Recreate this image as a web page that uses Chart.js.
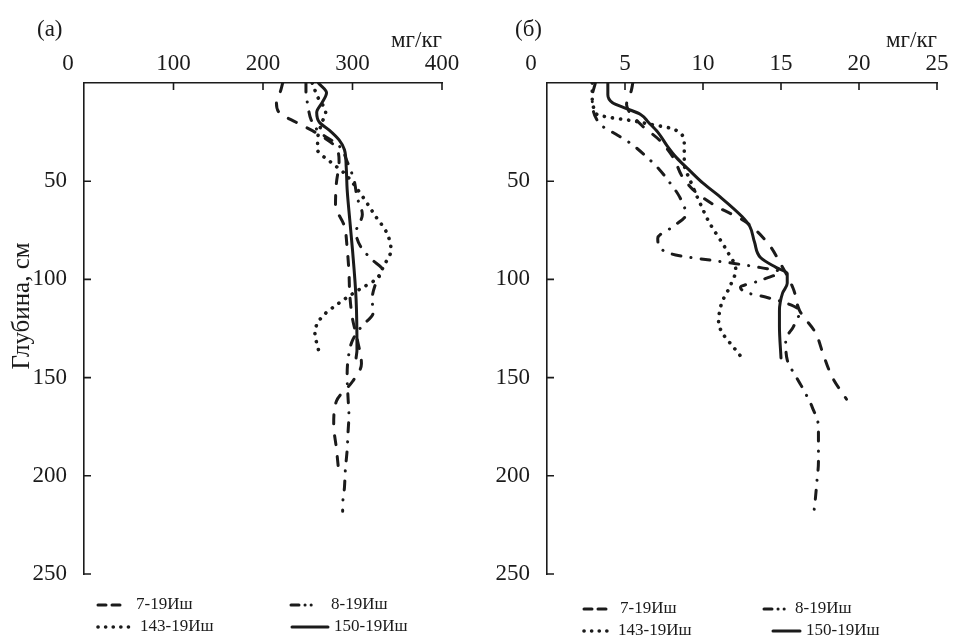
<!DOCTYPE html>
<html>
<head>
<meta charset="utf-8">
<script src="https://cdn.jsdelivr.net/npm/chart.js@4.4.1/dist/chart.umd.min.js"></script>
<style>
  html, body { margin: 0; padding: 0; background: #fff; }
  #wrap { position: relative; width: 954px; height: 641px; }
  #wrap canvas { position: absolute; left: 0; top: 0; }
</style>
</head>
<body>
<div id="wrap">
  <canvas id="chartA" width="954" height="641"></canvas>
  <canvas id="chartB" width="954" height="641"></canvas>
</div>
<script>
// Names, ticks
// ----------------------------------------------
const seriesNames = ['7-19Иш', '8-19Иш', '143-19Иш', '150-19Иш'];
const depthTicks  = [0, 50, 100, 150, 200, 250];
const ticksA      = [0, 100, 200, 300, 400];
const ticksB      = [0, 5, 10, 15, 20, 25];
const unitLabel   = 'мг/кг';
const depthLabel  = 'Глубина, см';

// Panel (а), mg/kg vs depth, cm
// ----------------------------------------------
const a7depth   = [0, 5, 10, 15, 20, 25, 32, 40, 51, 62, 73, 84, 96, 108, 120, 130, 143, 152, 162, 174, 186, 195];
const a7value   = [222, 219, 215, 218, 237, 258, 280, 285, 282, 281, 291, 294, 296, 297, 300, 305, 310, 300, 282, 279, 282, 284];
const a8depth   = [0, 5, 11, 19, 25, 32, 40, 50, 58, 67, 76, 84, 90, 95, 102, 110, 117, 124, 131, 141, 150, 160, 169, 178, 187, 197, 206, 215, 218];
const a8value   = [248, 248, 250, 254, 263, 285, 294, 302, 305, 311, 304, 310, 322, 333, 326, 322, 323, 310, 300, 295, 294, 295, 296, 295, 294, 292, 291, 289, 289];
const a143depth = [0, 7, 15, 20, 29, 34, 40, 46, 57, 68, 76, 85, 93, 100, 105, 113, 119, 127, 136];
const a143value = [255, 261, 270, 266, 261, 261, 275, 291, 310, 326, 338, 343, 335, 326, 308, 282, 266, 258, 262];
const a150depth = [0, 5, 10, 15, 20, 24, 29, 34, 43, 54, 65, 85, 110, 136, 140];
const a150value = [262, 271, 266, 260, 263, 274, 285, 291, 293, 294, 296, 300, 304, 305, 304];

// Panel (б)
// ----------------------------------------------
const b7depth   = [0, 4, 11, 21, 29, 38, 48, 56, 63, 70, 81, 91, 105, 116, 127, 138, 150, 161];
const b7value   = [5.5, 5.4, 5.1, 6.0, 7.2, 8.1, 8.7, 9.6, 10.9, 12.6, 14.1, 14.9, 15.8, 16.2, 17.2, 17.7, 18.3, 19.2];
const b8depth   = [0, 7, 21, 26, 31, 37, 44, 50, 58, 67, 73, 79, 85, 88, 90, 92, 94, 96, 101, 104, 107, 109, 112, 116, 124, 131, 141, 150, 157, 165, 175, 184, 193, 203, 212, 219];
const b8value   = [3.1, 2.9, 3.4, 4.4, 5.4, 6.3, 7.2, 7.8, 8.5, 8.9, 8.1, 7.1, 7.4, 8.5, 10.3, 12.1, 13.7, 14.9, 13.5, 12.4, 12.9, 14.0, 15.3, 16.2, 15.8, 15.3, 15.4, 16.0, 16.5, 17.0, 17.4, 17.4, 17.4, 17.3, 17.2, 17.1];
const b143depth = [0, 9, 13, 16, 17.5, 19, 21, 23, 27, 32, 41, 50, 61, 71, 85, 95, 104, 112, 122, 128, 134, 139];
const b143value = [2.9, 2.9, 3.0, 3.2, 4.0, 5.3, 6.6, 7.9, 8.7, 8.8, 8.8, 9.2, 9.8, 10.4, 11.5, 12.1, 11.7, 11.2, 11.0, 11.3, 11.9, 12.4];
const b150depth = [0, 6, 10, 13, 16, 20, 25, 32, 38, 45, 51, 58, 68, 73, 81, 89, 94, 97, 102, 107, 116, 124, 140];
const b150value = [3.9, 3.9, 4.2, 5.1, 6.0, 6.5, 7.1, 7.7, 8.3, 9.2, 10.0, 11.1, 12.5, 13.0, 13.3, 13.7, 14.7, 15.4, 15.4, 15.1, 14.9, 14.9, 15.0];

// Styles
// ----------------------------------------------
const ink   = '#1b1b1b';
const serif = '"Liberation Serif", "Times New Roman", serif';
const lineStyles = [
   { width: 3,   dash: [9, 12],           key: [8, 6] },             // dashed
   { width: 3,   dash: [9, 10, 0.1, 10],  key: [8, 6, 0.1, 6, 0.1, 20] }, // dash-dot
   { width: 3.6, dash: [0.1, 8],          key: [0.1, 7.5] },         // dotted
   { width: 3,   dash: [],                key: [] }                  // solid
];

// Ticks, labels, legend drawn on top of each panel
// ----------------------------------------------
const decor = {
   id: 'decor',
   afterDraw( chart, args, o ) {
      const { ctx, scales: { x, y } } = chart;
      ctx.save();
      ctx.strokeStyle = ink;
      ctx.fillStyle = ink;
      ctx.lineWidth = 1.6;
      ctx.setLineDash([]);

      // inward tick marks
      ctx.beginPath();
      x.ticks.forEach( t => {
         if ( t.value === 0 ) return;
         const px = x.getPixelForValue( t.value );
         ctx.moveTo( px, y.top ); ctx.lineTo( px, y.top + 7 );
      });
      y.ticks.forEach( t => {
         if ( t.value === 0 ) return;
         const py = y.getPixelForValue( t.value );
         ctx.moveTo( x.left, py ); ctx.lineTo( x.left + 7, py );
      });
      ctx.stroke();

      // top tick labels
      ctx.font = '23px ' + serif;
      ctx.textAlign = 'center';
      ctx.textBaseline = 'middle';
      x.ticks.forEach( t => {
         const px = x.getPixelForValue( t.value ) + ( t.value === 0 ? -16 : 0 );
         ctx.fillText( String( t.value ), px, 64 );
      });

      // unit and panel letter
      ctx.textAlign = 'right';
      ctx.textBaseline = 'alphabetic';
      ctx.fillText( unitLabel, x.right, 47 );
      ctx.textAlign = 'left';
      ctx.textBaseline = 'middle';
      ctx.fillText( o.letter, o.letterX, 30 );

      // depth title
      if ( o.depthTitle ) {
         ctx.save();
         ctx.font = '25px ' + serif;
         ctx.translate( 22, 306 );
         ctx.rotate( -Math.PI / 2 );
         ctx.textAlign = 'center';
         ctx.fillText( depthLabel, 0, 0 );
         ctx.restore();
      }

      // legend
      ctx.font = '17px ' + serif;
      ctx.textAlign = 'left';
      chart.data.datasets.forEach( ( ds, i ) => {
         const [x0, x1, tx, ty] = o.legend[i];
         ctx.save();
         ctx.lineWidth = ds.borderWidth;
         ctx.lineCap = 'round';
         ctx.setLineDash( lineStyles[i].key );
         ctx.beginPath();
         ctx.moveTo( x0, ty ); ctx.lineTo( x1, ty );
         ctx.stroke();
         ctx.restore();
         ctx.fillText( ds.label, tx, ty );
      });
      ctx.restore();
   }
};

function buildSets( series ) {
   return series.map( ( s, i ) => ({
      label: seriesNames[i],
      data: s[0].map( ( d, k ) => ({ x: s[1][k], y: d }) ),
      borderColor: ink,
      borderWidth: lineStyles[i].width,
      borderDash: lineStyles[i].dash,
      borderCapStyle: 'round',
      borderJoinStyle: 'round',
      pointRadius: 0,
      cubicInterpolationMode: 'monotone',
      fill: false
   }));
}

function makeChart( id, series, xMax, xTicks, padding, decorOpts ) {
   return new Chart( document.getElementById( id ), {
      type: 'line',
      data: { datasets: buildSets( series ) },
      options: {
         responsive: false,
         animation: false,
         indexAxis: 'y',
         layout: { padding },
         plugins: {
            legend: { display: false },
            tooltip: { enabled: false },
            decor: decorOpts
         },
         scales: {
            x: {
               type: 'linear',
               position: 'top',
               min: 0,
               max: xMax,
               afterBuildTicks: s => { s.ticks = xTicks.map( v => ({ value: v }) ); },
               afterFit: s => { s.height = 83; },
               ticks: { display: false },
               grid: { display: false },
               border: { display: true, color: ink, width: 1.6 }
            },
            y: {
               type: 'linear',
               reverse: true,
               min: 0,
               max: 250,
               afterBuildTicks: s => { s.ticks = depthTicks.map( v => ({ value: v }) ); },
               afterFit: s => { s.width = 80; },
               ticks: {
                  font: { family: serif, size: 23 },
                  color: ink,
                  padding: 9,
                  callback: v => v === 0 ? '' : String( v )
               },
               grid: { display: false },
               border: { display: true, color: ink, width: 1.6 }
            }
         }
      },
      plugins: [decor]
   });
}

makeChart( 'chartA',
   [ [a7depth, a7value], [a8depth, a8value], [a143depth, a143value], [a150depth, a150value] ],
   400, ticksA,
   { left: 4, right: 512, top: 0, bottom: 67 },
   {
      letter: '(а)', letterX: 37, depthTitle: true,
      legend: [ [98, 126, 136, 605], [291, 322, 331, 605], [98, 134, 140, 627], [292, 328, 334, 627] ]
   }
);

makeChart( 'chartB',
   [ [b7depth, b7value], [b8depth, b8value], [b143depth, b143value], [b150depth, b150value] ],
   25, ticksB,
   { left: 467, right: 17, top: 0, bottom: 67 },
   {
      letter: '(б)', letterX: 515, depthTitle: false,
      legend: [ [584, 609, 620, 609], [764, 790, 795, 609], [584, 612, 618, 631], [773, 800, 806, 631] ]
   }
);
</script>
</body>
</html>
